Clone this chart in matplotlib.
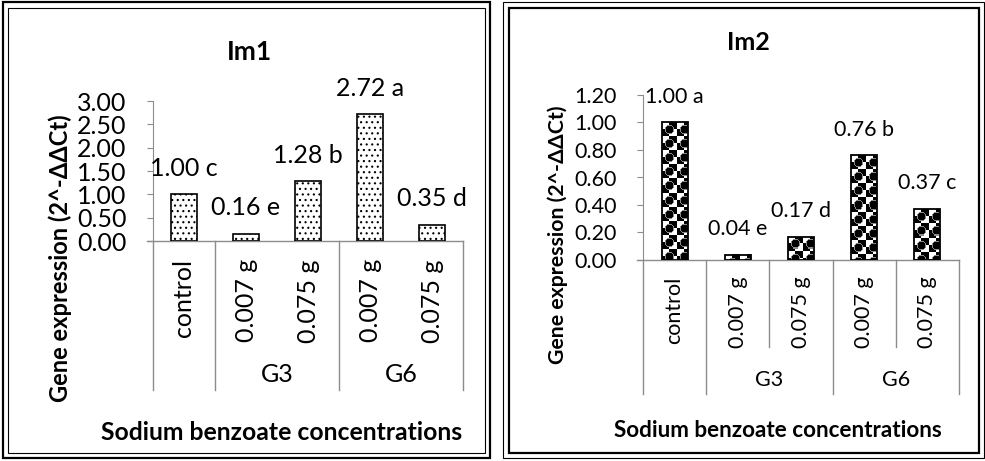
import matplotlib
matplotlib.use("Agg")
import matplotlib.pyplot as plt
import matplotlib.transforms as mtransforms
from matplotlib.patches import Rectangle
import numpy as np

plt.rcParams['font.family'] = ['Lato', 'DejaVu Sans']
plt.rcParams['hatch.linewidth'] = 0.8

CATEGORIES = ['control', '0.007 g', '0.075 g', '0.007 g', '0.075 g']
GROUPS = ['G3', 'G6']
IM1_VALUES = [1.00, 0.16, 1.28, 2.72, 0.35]
IM1_LETTERS = ['c', 'e', 'b', 'a', 'd']
IM2_VALUES = [1.00, 0.04, 0.17, 0.76, 0.37]
IM2_LETTERS = ['a', 'e', 'd', 'b', 'c']
IM1_TICKS = [0.0, 0.5, 1.0, 1.5, 2.0, 2.5, 3.0]
IM2_TICKS = [0.0, 0.2, 0.4, 0.6, 0.8, 1.0, 1.2]

XLABEL = 'Sodium benzoate concentrations'
YLABEL = 'Gene expression (2^-ΔΔCt)'
AXIS_GRAY = '#8c8c8c'


def checker_texture(h, w):
    # black/white checker with dark discs, like the Excel pattern fill
    yy, xx = np.mgrid[0:h, 0:w]
    cell = 7
    img = np.where(((xx // cell) + (yy // cell)) % 2 == 0, 1.0, 0.0)
    cx = (xx % (2 * cell)) - cell
    cy = (yy % (2 * cell)) - cell
    r = np.hypot(cx, cy)
    img[r < 4.0] = 0.0
    img[(r >= 4.0) & (r < 5.0)] = 0.55
    return img


def draw_panel(fig, rect, values, letters, ticks, fs, hatch_style, cat_top, grp_y, sep_bottom, inner_bottom):
    ax = fig.add_axes(rect)
    x = np.arange(len(values))
    ax.set_xlim(-0.5, len(values) - 0.5)
    ax.set_ylim(0, ticks[-1])

    if hatch_style == 'dots':
        ax.bar(x, values, width=0.41, color='white', edgecolor='black', linewidth=1.2, hatch='...', zorder=3)
    else:
        bars = ax.bar(x, values, width=0.41, color='none', edgecolor='black', linewidth=1.3, zorder=4)
        fig.canvas.draw()
        for b in bars:
            bb = b.get_window_extent()
            h, w = max(int(bb.height), 1), max(int(bb.width), 1)
            im = ax.imshow(checker_texture(h, w), cmap='gray', vmin=0, vmax=1, aspect='auto',
                           extent=(b.get_x(), b.get_x() + b.get_width(), 0, b.get_height()),
                           interpolation='nearest', zorder=3)
            im.set_clip_path(b)
        ax.set_xlim(-0.5, len(values) - 0.5)
        ax.set_ylim(0, ticks[-1])

    for xi, v, l in zip(x, values, letters):
        ax.annotate(f'{v:.2f} {l}', (xi, v), xytext=(0, 18.5), textcoords='offset points',
                    ha='center', va='center', fontsize=fs)

    for s in ['top', 'right', 'bottom']:
        ax.spines[s].set_visible(False)
    ax.spines['left'].set_color(AXIS_GRAY)
    ax.axhline(0, color=AXIS_GRAY, lw=1.0, zorder=2, xmin=-0.02, clip_on=False)
    ax.set_yticks(ticks)
    ax.set_yticklabels([f'{t:.2f}' for t in ticks], fontsize=fs)
    ax.tick_params(axis='y', length=4, color=AXIS_GRAY, pad=15)
    ax.set_xticks([])

    trans = mtransforms.blended_transform_factory(ax.transData, ax.transAxes)
    for xs in [-0.5, 0.5, 2.5, 4.5]:
        ax.plot([xs, xs], [0, sep_bottom], color=AXIS_GRAY, lw=1.0, transform=trans, clip_on=False)
    if inner_bottom is not None:
        for xs in [1.5, 3.5]:
            ax.plot([xs, xs], [0, inner_bottom], color=AXIS_GRAY, lw=1.0, transform=trans, clip_on=False)
    for xi, c in zip(x, CATEGORIES):
        ax.text(xi, cat_top, c, rotation=90, ha='center', va='top', fontsize=fs, transform=trans)
    for gx, g in zip([1.5, 3.5], GROUPS):
        ax.text(gx, grp_y, g, ha='center', va='center', fontsize=fs, transform=trans)
    return ax


fig = plt.figure(figsize=(9.85, 4.61), dpi=100)

# frames in pixel coordinates
bg = fig.add_axes([0, 0, 1, 1], zorder=-5)
bg.set_xlim(0, 985)
bg.set_ylim(461, 0)
bg.axis('off')
bg.add_patch(Rectangle((3, 2), 487, 456, fill=False, lw=1.6, ec='black'))
bg.add_patch(Rectangle((8, 8), 477, 445, fill=False, lw=0.8, ec='black'))
bg.add_patch(Rectangle((503, 2), 481, 456, fill=False, lw=0.8, ec='black'))
bg.add_patch(Rectangle((509, 8), 470, 445, fill=False, lw=1.6, ec='black'))

# Im1
draw_panel(fig, [153 / 985, (461 - 241) / 461, 310 / 985, 140 / 461],
           IM1_VALUES, IM1_LETTERS, IM1_TICKS, 18, 'dots',
           cat_top=-0.13, grp_y=-0.955, sep_bottom=-1.064, inner_bottom=None)
fig.text(249 / 985, 1 - 52 / 461, 'Im1', ha='center', va='center', fontsize=19, fontweight='bold')
fig.text(282 / 985, 1 - 432 / 461, XLABEL, ha='center', va='center', fontsize=17.8, fontweight='bold')
fig.text(60 / 985, 1 - 258 / 461, YLABEL, ha='center', va='center', rotation=90, fontsize=17, fontweight='bold')

# Im2
draw_panel(fig, [643 / 985, (461 - 260) / 461, 316 / 985, 165 / 461],
           IM2_VALUES, IM2_LETTERS, IM2_TICKS, 15.5, 'checker',
           cat_top=-0.1, grp_y=-0.727, sep_bottom=-0.812, inner_bottom=-0.527)
fig.text(748 / 985, 1 - 43 / 461, 'Im2', ha='center', va='center', fontsize=18, fontweight='bold')
fig.text(778 / 985, 1 - 430 / 461, XLABEL, ha='center', va='center', fontsize=16.2, fontweight='bold')
fig.text(558 / 985, 1 - 235 / 461, YLABEL, ha='center', va='center', rotation=90, fontsize=15.3, fontweight='bold')

fig.savefig('out.png', dpi=100)
